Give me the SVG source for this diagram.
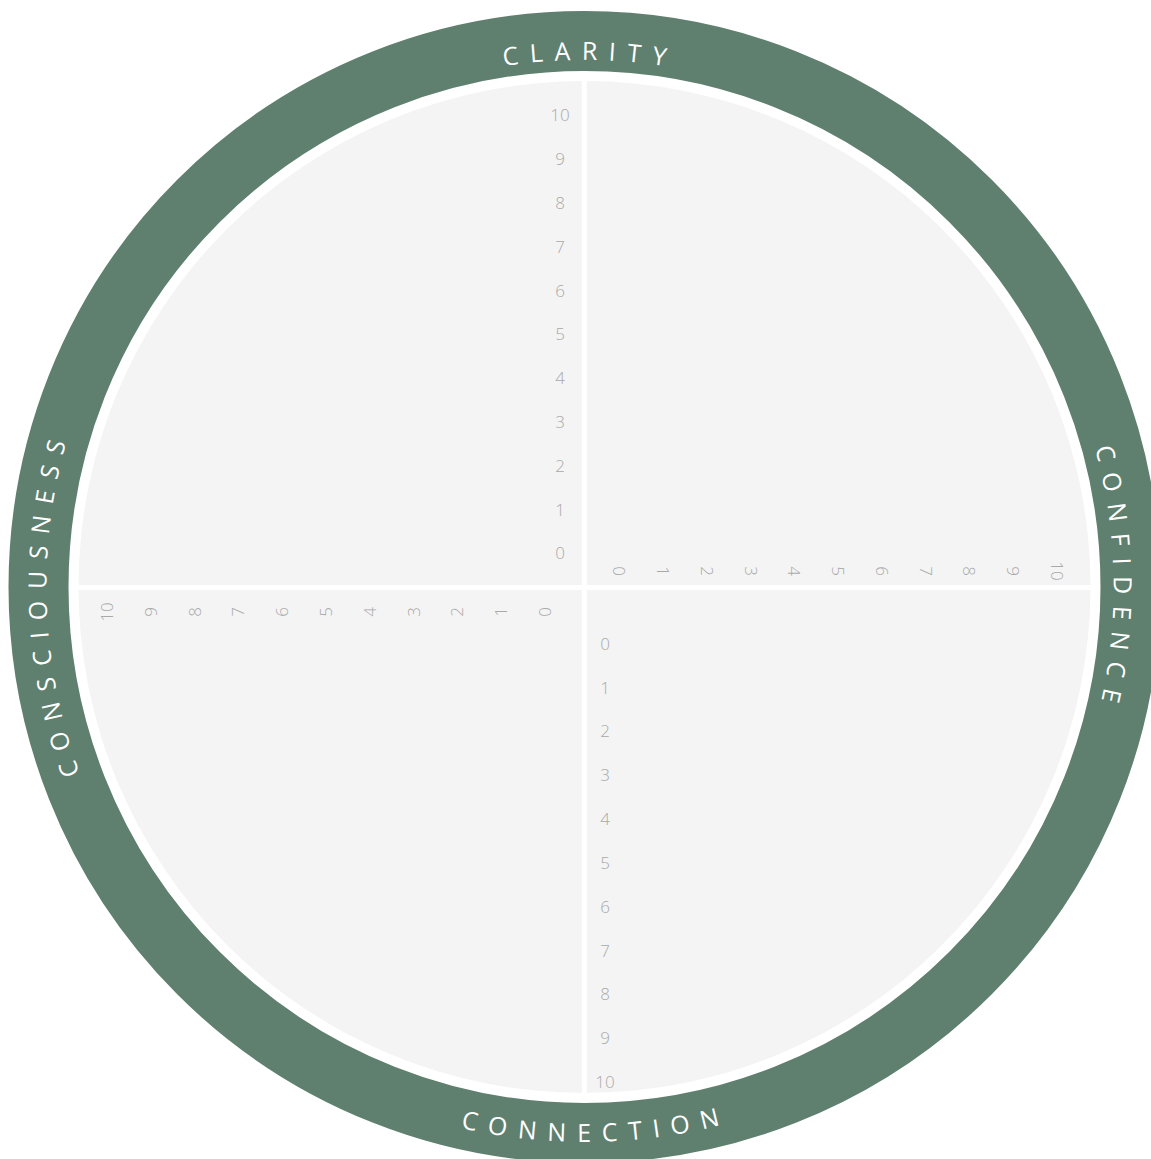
<svg xmlns="http://www.w3.org/2000/svg" width="1151" height="1159" viewBox="0 0 1151 1159">
<style>
.ring{fill:none;stroke:#5f7f6f;stroke-width:60}
.disc{fill:#f4f4f4}
.cross{stroke:#ffffff;stroke-width:5}
.lbl{font-family:"Open Sans","Liberation Sans",sans-serif;font-size:25px;fill:#ffffff;letter-spacing:11.2px;text-anchor:middle}
.num{font-family:"Open Sans","Liberation Sans",sans-serif;font-weight:300;font-size:17px;fill:#a9a9a9;text-anchor:middle}
</style>
<defs>
<path id="pTop" d="M128.1,323.5 A527,527 0 0 1 1040.9,323.5"/>
<path id="pRight" d="M841.0,124.3 A529,529 0 0 1 856.9,1040.5"/>
<path id="pLeft" d="M335.2,1063.8 A538,538 0 0 1 296.2,132.8"/>
<path id="pBottom" d="M106.8,869.5 A555,555 0 0 0 1068.0,859.4"/>
</defs>
<rect width="1151" height="1159" fill="#ffffff"/>
<g id="wheel">
<circle class="ring" cx="584.5" cy="587" r="546"/>
<circle class="disc" cx="584.5" cy="587" r="506"/>
</g>
<g id="connectors">
<line class="cross" x1="584.3" y1="80" x2="584.3" y2="1094"/>
<line class="cross" x1="78" y1="587.5" x2="1091" y2="587.5"/>
</g>
<g id="label-clarity"><text class="lbl"><textPath href="#pTop" startOffset="557.4">CLARITY</textPath></text></g>
<g id="label-confidence"><text class="lbl"><textPath href="#pRight" startOffset="555.5">CONFIDENCE</textPath></text></g>
<g id="label-consciousness"><text class="lbl"><textPath href="#pLeft" startOffset="569.0">CONSCIOUSNESS</textPath></text></g>
<g id="label-connection"><text class="lbl"><textPath href="#pBottom" startOffset="587.0">CONNECTION</textPath></text></g>
<g id="axis-top">
<text class="num" x="560" y="121">10</text>
<text class="num" x="560" y="165">9</text>
<text class="num" x="560" y="209">8</text>
<text class="num" x="560" y="253">7</text>
<text class="num" x="560" y="297">6</text>
<text class="num" x="560" y="340">5</text>
<text class="num" x="560" y="384">4</text>
<text class="num" x="560" y="428">3</text>
<text class="num" x="560" y="472">2</text>
<text class="num" x="560" y="516">1</text>
<text class="num" x="560" y="559">0</text>
</g>
<g id="axis-bottom">
<text class="num" x="605" y="650">0</text>
<text class="num" x="605" y="694">1</text>
<text class="num" x="605" y="737">2</text>
<text class="num" x="605" y="781">3</text>
<text class="num" x="605" y="825">4</text>
<text class="num" x="605" y="869">5</text>
<text class="num" x="605" y="913">6</text>
<text class="num" x="605" y="957">7</text>
<text class="num" x="605" y="1000">8</text>
<text class="num" x="605" y="1044">9</text>
<text class="num" x="605" y="1088">10</text>
</g>
<g id="axis-right">
<text class="num" transform="translate(619.3,571) rotate(90)" y="6">0</text>
<text class="num" transform="translate(663.0,571) rotate(90)" y="6">1</text>
<text class="num" transform="translate(706.8,571) rotate(90)" y="6">2</text>
<text class="num" transform="translate(750.5,571) rotate(90)" y="6">3</text>
<text class="num" transform="translate(794.3,571) rotate(90)" y="6">4</text>
<text class="num" transform="translate(838.0,571) rotate(90)" y="6">5</text>
<text class="num" transform="translate(881.7,571) rotate(90)" y="6">6</text>
<text class="num" transform="translate(925.5,571) rotate(90)" y="6">7</text>
<text class="num" transform="translate(969.2,571) rotate(90)" y="6">8</text>
<text class="num" transform="translate(1013.0,571) rotate(90)" y="6">9</text>
<text class="num" transform="translate(1056.7,571) rotate(90)" y="6">10</text>
</g>
<g id="axis-left">
<text class="num" transform="translate(545,612) rotate(-90)" y="6">0</text>
<text class="num" transform="translate(501.2,612) rotate(-90)" y="6">1</text>
<text class="num" transform="translate(457.4,612) rotate(-90)" y="6">2</text>
<text class="num" transform="translate(413.6,612) rotate(-90)" y="6">3</text>
<text class="num" transform="translate(369.8,612) rotate(-90)" y="6">4</text>
<text class="num" transform="translate(326,612) rotate(-90)" y="6">5</text>
<text class="num" transform="translate(282.2,612) rotate(-90)" y="6">6</text>
<text class="num" transform="translate(238.4,612) rotate(-90)" y="6">7</text>
<text class="num" transform="translate(194.6,612) rotate(-90)" y="6">8</text>
<text class="num" transform="translate(150.8,612) rotate(-90)" y="6">9</text>
<text class="num" transform="translate(107,612) rotate(-90)" y="6">10</text>
</g>
</svg>
